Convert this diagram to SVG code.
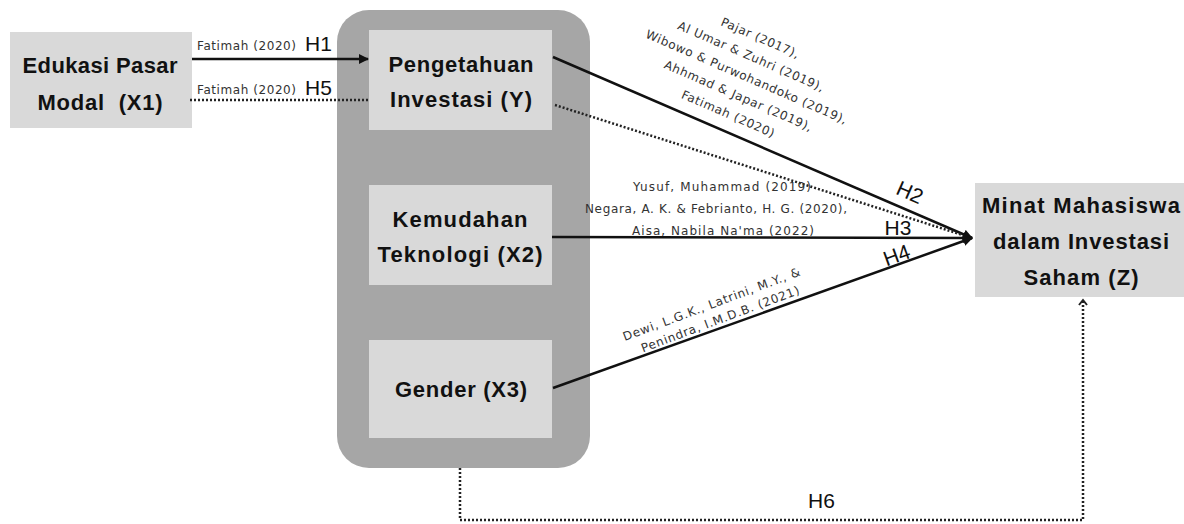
<svg xmlns="http://www.w3.org/2000/svg" width="1184" height="524" viewBox="0 0 1184 524">
<defs>
<marker id="ah" viewBox="0 0 10 10" refX="9" refY="5" markerWidth="4" markerHeight="4" orient="auto" markerUnits="strokeWidth">
<path d="M0,0 L10,5 L0,10 z" fill="#111"/>
</marker>
<marker id="chev" viewBox="0 0 10 10" refX="5" refY="5" markerWidth="4" markerHeight="4" orient="auto" markerUnits="strokeWidth">
<path d="M1,1 L6,5 L1,9" fill="none" stroke="#222" stroke-width="2"/>
</marker>
</defs>
<style>
.outer{fill:#a6a6a6}
.box{fill:#d9d9d9}
.lbl{font-family:"Liberation Sans",Arial,sans-serif;font-weight:bold;font-size:22px;fill:#111;text-anchor:middle;white-space:pre}
.cite{font-family:"DejaVu Sans",sans-serif;font-size:12px;fill:#333}
.mid{text-anchor:middle}
.h{font-family:"Liberation Sans",Arial,sans-serif;font-size:21px;fill:#111}
.solid{stroke:#111;stroke-width:2.5;fill:none}
.dot{stroke:#222;stroke-width:2.5;fill:none;stroke-dasharray:2 2}
</style>
<rect width="1184" height="524" fill="#ffffff"/>
<g id="edukasi">
<rect class="box" x="10" y="32" width="182" height="96"/>
<text class="lbl" x="100" y="73" textLength="155">Edukasi Pasar</text>
<text class="lbl" x="100" y="110" xml:space="preserve" textLength="125">Modal  (X1)</text>
</g>
<g id="container">
<rect class="outer" x="337" y="10" width="253" height="458" rx="32"/>
</g>
<g id="pengetahuan">
<rect class="box" x="369" y="30" width="183" height="100"/>
<text class="lbl" x="461" y="72" textLength="145">Pengetahuan</text>
<text class="lbl" x="461" y="107" textLength="142">Investasi (Y)</text>
</g>
<g id="kemudahan">
<rect class="box" x="369" y="185" width="183" height="100"/>
<text class="lbl" x="460" y="227" textLength="135">Kemudahan</text>
<text class="lbl" x="460" y="262" textLength="165">Teknologi (X2)</text>
</g>
<g id="gender">
<rect class="box" x="369" y="340" width="183" height="98"/>
<text class="lbl" x="461" y="397" textLength="132">Gender (X3)</text>
</g>
<g id="minat">
<rect class="box" x="975" y="183" width="209" height="114"/>
<text class="lbl" x="1081" y="213" textLength="198">Minat Mahasiswa</text>
<text class="lbl" x="1081" y="249" textLength="176">dalam Investasi</text>
<text class="lbl" x="1081" y="285" textLength="115">Saham (Z)</text>
</g>
<g id="connectors">
<line class="solid" x1="192" y1="59" x2="368" y2="59" marker-end="url(#ah)"/>
<line class="dot" x1="190" y1="100" x2="369" y2="100"/>
<line class="solid" x1="553" y1="57" x2="972" y2="238" marker-end="url(#ah)"/>
<line class="dot" x1="555" y1="105" x2="972" y2="238" marker-end="url(#ah)"/>
<line class="solid" x1="552" y1="237" x2="972" y2="238" marker-end="url(#ah)"/>
<line class="solid" x1="553" y1="388" x2="972" y2="238" marker-end="url(#ah)"/>
<polyline class="dot" points="460,468 460,520 1083,520 1083,301" marker-end="url(#chev)"/>
</g>
<g id="labels">
<text class="cite" x="197" y="50" textLength="99">Fatimah (2020)</text>
<text class="h" x="305" y="51" font-size="18">H1</text>
<text class="cite" x="197" y="94" textLength="99">Fatimah (2020)</text>
<text class="h" x="305" y="95" font-size="18">H5</text>
<g transform="translate(760,38) rotate(23.5)">
<text class="cite mid" x="0" y="4" textLength="84">Pajar (2017),</text>
<text class="cite mid" x="-1" y="24.6" textLength="158">Al Umar &amp; Zuhri (2019),</text>
<text class="cite mid" x="3" y="45.2" textLength="218">Wibowo &amp; Purwohandoko (2019),</text>
<text class="cite mid" x="3" y="65.8" textLength="160">Ahhmad &amp; Japar (2019),</text>
<text class="cite mid" x="1" y="86.4" textLength="100">Fatimah (2020)</text>
</g>
<text class="cite mid" x="722" y="191" textLength="178">Yusuf, Muhammad (2019)</text>
<text class="cite mid" x="716" y="213" textLength="262">Negara, A. K. &amp; Febrianto, H. G. (2020),</text>
<text class="cite mid" x="723" y="235" textLength="182">Aisa, Nabila Na'ma (2022)</text>
<g transform="translate(722,324) rotate(-20.5)">
<text class="cite mid" x="-3" y="-18" textLength="188">Dewi, L.G.K., Latrini, M.Y., &amp;</text>
<text class="cite mid" x="0" y="-1" textLength="168">Penindra, I.M.D.B. (2021)</text>
</g>
<text class="h mid" transform="translate(907,199) rotate(24)">H2</text>
<text class="h mid" x="898" y="235">H3</text>
<text class="h mid" transform="translate(899,262) rotate(-20)">H4</text>
<text class="h" x="808" y="508" font-size="20">H6</text>
</g>
</svg>
